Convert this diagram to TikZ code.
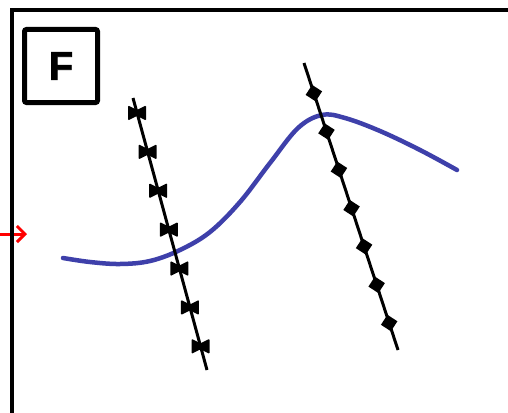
\documentclass[tikz,border=0pt]{standalone}
\usepackage{fontspec}
\setmainfont{Liberation Sans}
\newfontfamily\heavyF{Liberation Sans}[BoldFeatures={FakeBold=1.8}]
\usetikzlibrary{arrows.meta,shapes.geometric}
\definecolor{curveblue}{RGB}{62,64,170}
\tikzset{
  frameline/.style={line width=4pt, black},
  labelbox/.style={draw, line width=5pt, rounded corners=2pt, minimum width=73pt, minimum height=73pt, inner sep=0pt, font=\heavyF\fontsize{40}{40}\selectfont\bfseries},
  frontline/.style={line width=3pt, black},
  warmcurve/.style={line width=4.5pt, curveblue, line cap=round},
  redarrow/.style={line width=3pt, red, -{Straight Barb[length=8pt,width=16pt,line width=3pt]}},
  diamondmark/.style={diamond, fill=black, inner sep=0pt, minimum size=17pt, rotate=12},
}
\begin{document}
\begin{tikzpicture}[x=1pt,y=-1pt]
\useasboundingbox (0,0) rectangle (508,412);
\clip (0,0) rectangle (508,412);
\fill[white] (0,0) rectangle (508,412);
% red arrow
\coordinate (arrS) at (-2,234);
\coordinate (arrE) at (27,234);
\draw[redarrow] (arrS) -- (arrE);
% frame
\coordinate (fBL) at (12,420);
\coordinate (fTL) at (12,10);
\coordinate (fTR) at (520,10);
\draw[frameline] (fBL) -- (fTL) -- (fTR);
% label box
\node[labelbox] (F) at (61,66) {F};
% warm front curve
\draw[warmcurve] plot[smooth, tension=0.6] coordinates {(63,258) (90,262) (120,264) (150,261) (180,250) (210,232) (240,202) (270,163) (298,128) (322,115) (345,118) (380,131) (420,150) (457,170)};
% left front
\coordinate (L1) at (133,98);
\coordinate (L2) at (207,370);
\draw[frontline] (L1) -- (L2);
\foreach \p in {0.055,0.198,0.341,0.484,0.627,0.770,0.913}{
  \path (L1) -- (L2) coordinate[pos=\p] (bm);
  \fill[shift={(bm)}, rounded corners=1pt] (-9,-7.5) -- (0,-3) -- (9,-7.5) -- (9,7.5) -- (0,3) -- (-9,7.5) -- cycle;
}
% right front
\coordinate (R1) at (304,63);
\coordinate (R2) at (398,350);
\draw[frontline] (R1) -- (R2);
\foreach \p in {0.105,0.239,0.372,0.506,0.639,0.773,0.906}{
  \path (R1) -- (R2) node[pos=\p, diamondmark] {};
}
\end{tikzpicture}
\end{document}
